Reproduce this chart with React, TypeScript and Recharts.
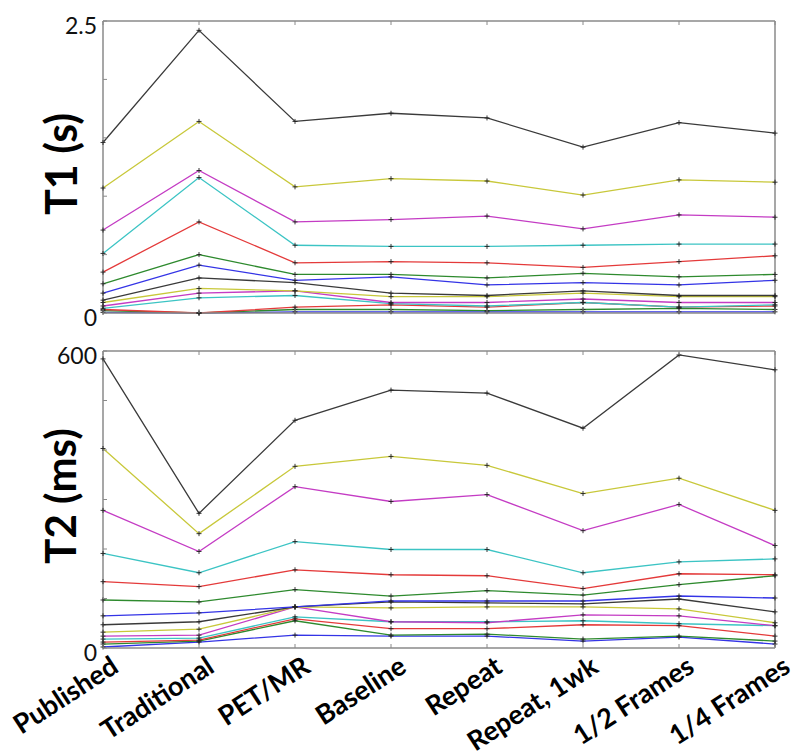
import React from 'react';
import { LineChart, Line, XAxis, YAxis } from 'recharts';

const categories = ['Published', 'Traditional', 'PET/MR', 'Baseline', 'Repeat', 'Repeat, 1wk', '1/2 Frames', '1/4 Frames'];

// T1 (s), series in plotting order (lowest to highest)
const t1_b1 = [0.005, 0, 0.01, 0.01, 0.01, 0.01, 0.01, 0.01];
const t1_g1 = [0.02, 0, 0.03, 0.03, 0.02, 0.03, 0.04, 0.03];
const t1_r1 = [0.03, 0, 0.05, 0.07, 0.05, 0.09, 0.05, 0.06];
const t1_c1 = [0.04, 0.13, 0.15, 0.08, 0.06, 0.09, 0.05, 0.07];
const t1_m1 = [0.06, 0.17, 0.19, 0.09, 0.09, 0.12, 0.09, 0.09];
const t1_y1 = [0.09, 0.21, 0.19, 0.14, 0.14, 0.17, 0.14, 0.14];
const t1_k1 = [0.11, 0.30, 0.26, 0.17, 0.15, 0.19, 0.15, 0.15];
const t1_b2 = [0.17, 0.41, 0.28, 0.31, 0.24, 0.26, 0.24, 0.28];
const t1_g2 = [0.25, 0.50, 0.33, 0.33, 0.30, 0.34, 0.31, 0.33];
const t1_r2 = [0.35, 0.78, 0.43, 0.44, 0.43, 0.39, 0.44, 0.49];
const t1_c2 = [0.51, 1.16, 0.58, 0.57, 0.57, 0.58, 0.59, 0.59];
const t1_m2 = [0.71, 1.22, 0.78, 0.80, 0.83, 0.72, 0.84, 0.82];
const t1_y2 = [1.07, 1.64, 1.08, 1.15, 1.13, 1.01, 1.14, 1.12];
const t1_k2 = [1.46, 2.42, 1.64, 1.71, 1.67, 1.42, 1.63, 1.54];

// T2 (ms)
const t2_b1 = [2, 12, 26, 24, 24, 14, 22, 8];
const t2_g1 = [8, 14, 55, 26, 28, 18, 24, 14];
const t2_r1 = [12, 16, 59, 39, 39, 47, 45, 24];
const t2_c1 = [18, 20, 63, 53, 53, 55, 49, 45];
const t2_m1 = [24, 26, 83, 53, 51, 67, 65, 45];
const t2_y1 = [32, 38, 83, 81, 83, 83, 79, 51];
const t2_k1 = [47, 53, 83, 93, 91, 89, 99, 73];
const t2_b2 = [65, 71, 83, 95, 95, 95, 105, 101];
const t2_g2 = [97, 93, 118, 105, 116, 107, 128, 146];
const t2_r2 = [134, 124, 158, 148, 146, 120, 150, 148];
const t2_c2 = [191, 152, 215, 199, 199, 152, 174, 180];
const t2_m2 = [278, 195, 326, 296, 310, 237, 290, 207];
const t2_y2 = [403, 231, 367, 387, 369, 312, 343, 278];
const t2_k2 = [584, 272, 460, 521, 515, 444, 592, 562];

const t1Ticks = [0, 0.5, 1, 1.5, 2, 2.5];
const t2Ticks = [0, 100, 200, 300, 400, 500, 600];

const seriesKeys = ['b1', 'g1', 'r1', 'c1', 'm1', 'y1', 'k1', 'b2', 'g2', 'r2', 'c2', 'm2', 'y2', 'k2'];
const colorOf: Record<string, string> = {
  b: '#3434e6',
  g: '#2e8a2e',
  r: '#e43a3a',
  c: '#3cc4c4',
  m: '#c43cc4',
  y: '#c8c83a',
  k: '#3a3a3a',
};

const t1Series = [t1_b1, t1_g1, t1_r1, t1_c1, t1_m1, t1_y1, t1_k1, t1_b2, t1_g2, t1_r2, t1_c2, t1_m2, t1_y2, t1_k2];
const t2Series = [t2_b1, t2_g1, t2_r1, t2_c1, t2_m1, t2_y1, t2_k1, t2_b2, t2_g2, t2_r2, t2_c2, t2_m2, t2_y2, t2_k2];

const buildRows = (series: number[][]) =>
  categories.map((name, i) => {
    const row: Record<string, any> = { name };
    seriesKeys.forEach((k, j) => {
      row[k] = series[j][i];
    });
    return row;
  });

const t1Data = buildRows(t1Series);
const t2Data = buildRows(t2Series);

const FONT = 'Lato, "Open Sans", sans-serif';
const AXIS = '#8a8a8a';

const LeftTick = (props: any) => {
  const { x, y, payload, labels } = props;
  const show = labels.includes(payload.value);
  return (
    <g>
      <line x1={x} y1={y} x2={x + 4} y2={y} stroke={AXIS} strokeWidth={1} />
      {show && (
        <text x={x - 6} y={y + 4} textAnchor="end" dominantBaseline="central" fontFamily={FONT} fontSize={23} fill="#111">
          {payload.value}
        </text>
      )}
    </g>
  );
};

const RightTick = (props: any) => {
  const { x, y } = props;
  return <line x1={x} y1={y} x2={x - 4} y2={y} stroke={AXIS} strokeWidth={1} />;
};

const TopTick = (props: any) => {
  const { x, y } = props;
  return <line x1={x} y1={y} x2={x} y2={y + 4} stroke={AXIS} strokeWidth={1} />;
};

const BottomTick = (props: any) => {
  const { x, y, payload, showLabel } = props;
  const ax = x + 17;
  const ay = y + 23;
  return (
    <g>
      <line x1={x} y1={y} x2={x} y2={y - 4} stroke={AXIS} strokeWidth={1} />
      {showLabel && (
        <text
          x={ax}
          y={ay}
          textAnchor="end"
          transform={`rotate(-33, ${ax}, ${ay})`}
          fontFamily={FONT}
          fontWeight="bold"
          fontSize={27}
          fill="#000"
        >
          {payload.value}
        </text>
      )}
    </g>
  );
};

const PlusDot = (props: any) => {
  const { cx, cy, index, dataKey } = props;
  if (cx == null || cy == null) return <g key={`${dataKey}-${index}`} />;
  return (
    <path
      key={`${dataKey}-${index}`}
      d={`M${cx - 2.5},${cy}h5M${cx},${cy - 2.5}v5`}
      stroke="#222"
      strokeWidth={0.9}
      fill="none"
    />
  );
};

const Panel = ({ data, ticks, max, height, bottomMargin, showLabels }: any) => (
  <LineChart
    width={800}
    height={height}
    data={data}
    margin={{ top: 20, right: 24, bottom: bottomMargin, left: 43 }}
  >
    <XAxis
      xAxisId="b"
      dataKey="name"
      orientation="bottom"
      height={1}
      interval={0}
      tickSize={0}
      tickMargin={0}
      tickLine={false}
      axisLine={{ stroke: AXIS, strokeWidth: 1.5 }}
      tick={<BottomTick showLabel={showLabels} />}
    />
    <XAxis
      xAxisId="t"
      dataKey="name"
      orientation="top"
      height={1}
      interval={0}
      tickSize={0}
      tickMargin={0}
      tickLine={false}
      axisLine={{ stroke: AXIS, strokeWidth: 1.5 }}
      tick={<TopTick />}
    />
    <YAxis
      yAxisId="l"
      orientation="left"
      width={60}
      domain={[0, max]}
      ticks={ticks}
      interval={0}
      tickSize={0}
      tickMargin={0}
      tickLine={false}
      axisLine={{ stroke: AXIS, strokeWidth: 1.5 }}
      tick={<LeftTick labels={[0, max]} />}
    />
    <YAxis
      yAxisId="r"
      orientation="right"
      width={1}
      domain={[0, max]}
      ticks={ticks}
      interval={0}
      tickSize={0}
      tickMargin={0}
      tickLine={false}
      axisLine={{ stroke: AXIS, strokeWidth: 1.5 }}
      tick={<RightTick />}
    />
    {seriesKeys.map((k) => (
      <Line
        key={k}
        xAxisId="b"
        yAxisId="l"
        type="linear"
        dataKey={k}
        stroke={colorOf[k[0]]}
        strokeWidth={1.3}
        dot={PlusDot}
        activeDot={false}
        isAnimationActive={false}
      />
    ))}
  </LineChart>
);

export default function App() {
  return (
    <div style={{ position: 'absolute', left: 0, top: 0, width: 800, height: 753, background: '#fff', overflow: 'hidden' }}>
      <div style={{ position: 'absolute', left: 0, top: 0 }}>
        <Panel data={t1Data} ticks={t1Ticks} max={2.5} height={330} bottomMargin={16} showLabels={false} />
      </div>
      <div style={{ position: 'absolute', left: 0, top: 330 }}>
        <Panel data={t2Data} ticks={t2Ticks} max={600} height={423} bottomMargin={104} showLabels={true} />
      </div>
      <div
        style={{
          position: 'absolute',
          left: 60,
          top: 164,
          transform: 'translate(-50%, -50%) rotate(-90deg)',
          fontFamily: FONT,
          fontWeight: 'bold',
          fontSize: 43,
          whiteSpace: 'nowrap',
          lineHeight: 1,
        }}
      >
        T1 (s)
      </div>
      <div
        style={{
          position: 'absolute',
          left: 60,
          top: 496,
          transform: 'translate(-50%, -50%) rotate(-90deg)',
          fontFamily: FONT,
          fontWeight: 'bold',
          fontSize: 42,
          whiteSpace: 'nowrap',
          lineHeight: 1,
        }}
      >
        T2 (ms)
      </div>
    </div>
  );
}
